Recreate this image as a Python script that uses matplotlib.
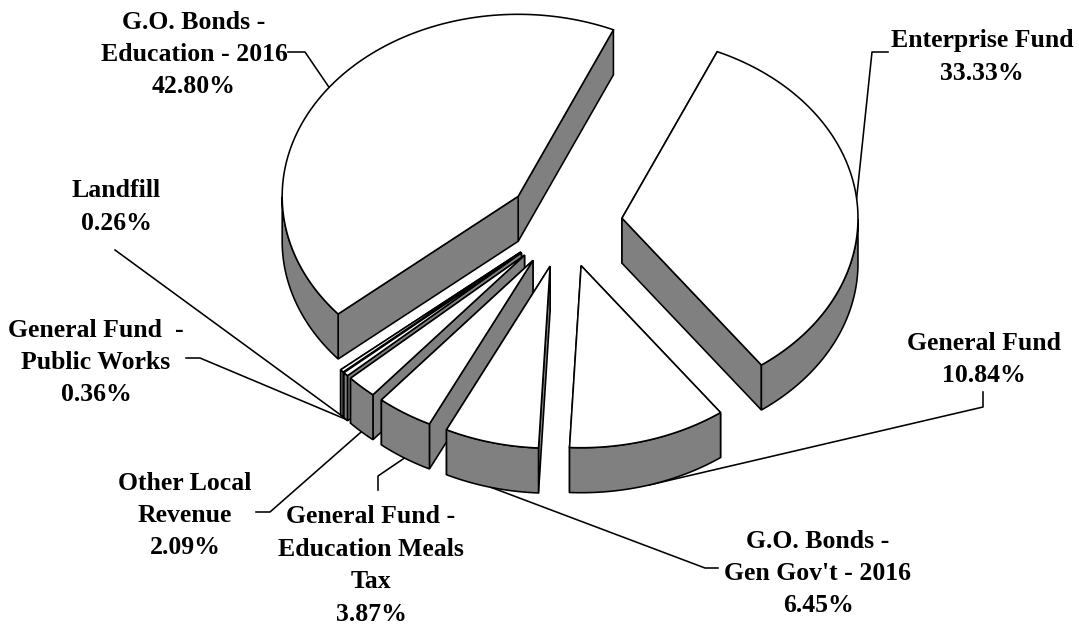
import numpy as np
import matplotlib
matplotlib.use("Agg")
import matplotlib.pyplot as plt
from matplotlib.patches import Polygon

# slices in clockwise order starting from the first edge
labels = ["Enterprise Fund\n33.33%",
          "General Fund\n10.84%",
          "G.O. Bonds -\nGen Gov't - 2016\n6.45%",
          "General Fund -\nEducation Meals\nTax\n3.87%",
          "Other Local\nRevenue\n2.09%",
          "General Fund  -\nPublic Works\n0.36%",
          "Landfill\n0.26%",
          "G.O. Bonds -\nEducation - 2016\n42.80%"]
values = [33.33, 10.84, 6.45, 3.87, 2.09, 0.36, 0.26, 42.80]

# layout in pixels
CX, CY = 564.5, 223
RX, RY = 236, 182
DEPTH = 45
EXPLODE = 0.245
START = 23.8

label_pos = [(982, 57), (984, 359.5), (818, 573.5), (371, 565.5),
             (185, 515.5), (96, 362.5), (116, 207), (194, 54.5)]
# leader start and elbow, the last point is computed on the rim
leader_pts = [[(888, 52), (872, 52)],
              [(983, 392), (983, 407)],
              [(718, 568), (705, 568)],
              [(378, 490), (378, 476)],
              [(256, 512), (270, 512)],
              [(186, 358), (200, 358)],
              [(115, 250)],
              [(288, 52), (305, 52)]]
draw_order = [7, 0, 6, 5, 4, 3, 2, 1]

WALL = "#808080"
LW = 1.15


def rim(t):
    t = np.radians(t)
    return np.array([RX * np.sin(t), -RY * np.cos(t)]).T


fig = plt.figure(figsize=(10.79, 6.26), dpi=100)
ax = fig.add_axes([0, 0, 1, 1])
ax.set_xlim(0, 1079)
ax.set_ylim(626, 0)
ax.axis("off")

edges = START + np.concatenate([[0], np.cumsum(values)]) * 3.6
down = np.array([0, DEPTH])

for i in draw_order:
    t0, t1 = edges[i], edges[i + 1]
    mid = (t0 + t1) / 2
    apex = np.array([CX, CY]) + EXPLODE * rim(mid)
    ts = np.linspace(t0, t1, 120)
    arc = apex + rim(ts)

    # radial walls, the one further back first
    walls = [np.array([apex, arc[0], arc[0] + down, apex + down]),
             np.array([apex, arc[-1], arc[-1] + down, apex + down])]
    walls.sort(key=lambda w: w[:, 1].mean())
    for w in walls:
        ax.add_patch(Polygon(w, fc=WALL, ec="black", lw=LW, zorder=2))

    # outer wall, only the part turned to the viewer
    front = arc[np.cos(np.radians(ts)) < 0]
    if len(front) > 1:
        poly = np.vstack([front, (front + down)[::-1]])
        ax.add_patch(Polygon(poly, fc=WALL, ec="black", lw=LW, zorder=2))

    ax.add_patch(Polygon(np.vstack([apex, arc]), fc="white", ec="black", lw=LW, zorder=2))

    # leader ends on the slice rim
    end = apex + rim(mid)
    if np.cos(np.radians(mid)) < 0:
        end = end + down
    pts = np.array(leader_pts[i] + [tuple(end)])
    ax.plot(pts[:, 0], pts[:, 1], color="black", lw=LW, zorder=1)

for lab, (x, y) in zip(labels, label_pos):
    ax.text(x, y, lab, ha="center", va="center", family="Liberation Serif",
            fontweight="bold", fontsize=18.5, linespacing=1.52, color="black")

fig.savefig("out.png", dpi=100, facecolor="white")
